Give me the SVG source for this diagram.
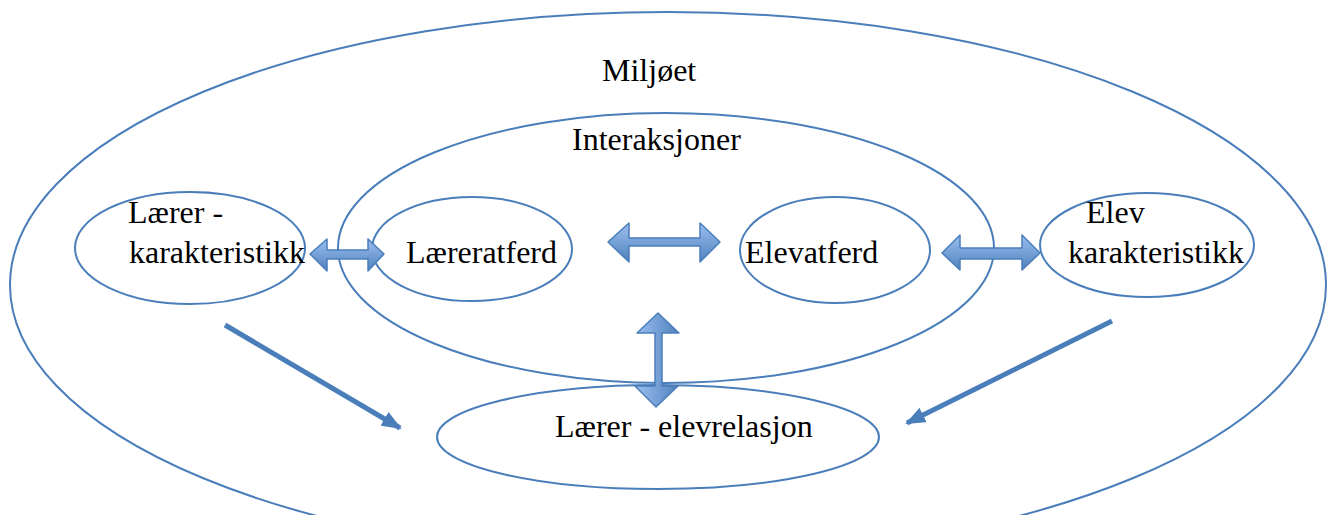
<svg xmlns="http://www.w3.org/2000/svg" width="1332" height="515" viewBox="0 0 1332 515">
<defs>
<linearGradient id="g" x1="0" y1="0" x2="0" y2="1">
<stop offset="0" stop-color="#9CC0F0"/>
<stop offset="1" stop-color="#4F81BD"/>
</linearGradient>
<linearGradient id="gv" x1="0" y1="0" x2="1" y2="0">
<stop offset="0" stop-color="#9CC0F0"/>
<stop offset="1" stop-color="#4F81BD"/>
</linearGradient>
<marker id="ah" markerUnits="userSpaceOnUse" viewBox="0 0 20 16" refX="18" refY="8" markerWidth="20" markerHeight="16" orient="auto">
<path d="M0,0 L20,8 L0,16 Z" fill="#4A7EBB"/>
</marker>
</defs>
<style>
.e{fill:none;stroke:#4A7EBB;stroke-width:2}
.t{font-family:"Liberation Serif","Times New Roman",serif;font-size:32px;fill:#000}
.da{fill:url(#g);stroke:#4A7EBB;stroke-width:1.5;stroke-linejoin:round}
.dv{fill:url(#gv);stroke:#4A7EBB;stroke-width:1.5;stroke-linejoin:round}
.ln{stroke:#4A7EBB;stroke-width:5;fill:none}
</style>
<rect width="1332" height="515" fill="#fff"/>
<g id="miljoet">
<ellipse class="e" cx="668" cy="285" rx="658" ry="273"/>
<text class="t" x="602" y="81">Miljøet</text>
</g>
<g id="interaksjoner">
<ellipse class="e" cx="666" cy="248" rx="328" ry="135"/>
<text class="t" x="572" y="150">Interaksjoner</text>
</g>
<g id="laerer-karakteristikk">
<ellipse class="e" cx="190" cy="248" rx="115" ry="56"/>
<text class="t" x="128" y="223">Lærer -</text>
<text class="t" x="129" y="263">karakteristikk</text>
</g>
<g id="laereratferd">
<ellipse class="e" cx="472" cy="249" rx="100" ry="52"/>
<text class="t" x="406" y="263">Læreratferd</text>
</g>
<g id="elevatferd">
<ellipse class="e" cx="835" cy="250" rx="95" ry="53"/>
<text class="t" x="745" y="263">Elevatferd</text>
</g>
<g id="elev-karakteristikk">
<ellipse class="e" cx="1147" cy="245" rx="107" ry="52"/>
<text class="t" x="1086" y="223">Elev</text>
<text class="t" x="1068" y="263">karakteristikk</text>
</g>
<g id="laerer-elevrelasjon">
<ellipse class="e" cx="658" cy="437" rx="221" ry="52"/>
<text class="t" x="555" y="437">Lærer - elevrelasjon</text>
</g>
<g id="connectors">
<path class="da" d="M310,254 L327,239 L327,250 L368,250 L368,239 L384,254 L368,271 L368,259 L327,259 L327,271 Z"/>
<path class="da" d="M608,242 L629,223 L629,238 L700,238 L700,223 L720,242 L700,262 L700,246 L629,246 L629,262 Z"/>
<path class="da" d="M942,253 L960,235 L960,248 L1022,248 L1022,235 L1040,253 L1022,270 L1022,259 L960,259 L960,270 Z"/>
<path class="dv" d="M658,313 L679,333 L662,333 L662,386 L678,386 L656,407 L635,386 L655,386 L655,333 L637,333 Z"/>
<line class="ln" x1="225" y1="325" x2="400" y2="428" marker-end="url(#ah)"/>
<line class="ln" x1="1112" y1="321" x2="907" y2="423" marker-end="url(#ah)"/>
</g>
</svg>
